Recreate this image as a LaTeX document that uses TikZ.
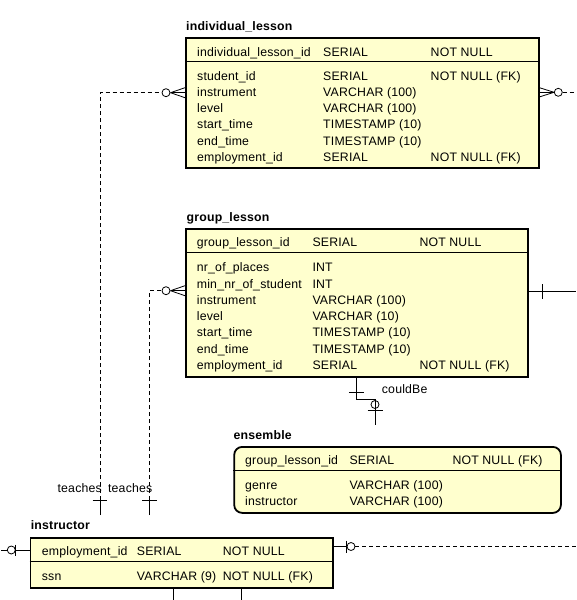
\documentclass[tikz,border=0pt]{standalone}
\usepackage{fontspec}
\setmainfont[LetterSpace=1.5]{Liberation Sans}
\definecolor{boxfill}{RGB}{255,255,206}
\begin{document}
\begin{tikzpicture}[x=1pt,y=-1pt,
  tbl/.style={draw=black, line width=1.8pt, fill=boxfill, inner sep=0pt, anchor=north west},
  cell/.style={anchor=base west, inner sep=0pt, font=\fontsize{12.3}{14}\selectfont},
  ttl/.style={anchor=base west, inner sep=0pt, font=\bfseries\fontsize{12.3}{14}\selectfont},
  lbl/.style={anchor=base east, inner sep=0pt, font=\fontsize{12.3}{14}\selectfont},
  sepline/.style={line width=0.8pt},
  rel/.style={line width=0.8pt},
  dsh/.style={line width=0.8pt, dash pattern=on 4pt off 3pt},
  ring/.style={circle, draw, line width=0.8pt, minimum size=8pt, inner sep=0pt},
  wring/.style={ring, fill=white}
]
\useasboundingbox (0,0) rectangle (576,600);

% ---------- individual_lesson ----------
\node[ttl] (tIL) at (186,30.7) {individual\_lesson};
\node[tbl, minimum width=353pt, minimum height=130pt] (il) at (185,36.7) {};
\draw[sepline] (185,61.7) -- (538,61.7);
\node[cell] (il1a) at (197,56) {individual\_lesson\_id};
\node[cell] (il1b) at (323,56) {SERIAL};
\node[cell] (il1c) at (430.5,56) {NOT NULL};
\node[cell] (il2a) at (197,80) {student\_id};
\node[cell] (il2b) at (323,80) {SERIAL};
\node[cell] (il2c) at (430.5,80) {NOT NULL (FK)};
\node[cell] (il3a) at (197,96.3) {instrument};
\node[cell] (il3b) at (323,96.3) {VARCHAR (100)};
\node[cell] (il4a) at (197,112.6) {level};
\node[cell] (il4b) at (323,112.6) {VARCHAR (100)};
\node[cell] (il5a) at (197,128.9) {start\_time};
\node[cell] (il5b) at (323,128.9) {TIMESTAMP (10)};
\node[cell] (il6a) at (197,145.2) {end\_time};
\node[cell] (il6b) at (323,145.2) {TIMESTAMP (10)};
\node[cell] (il7a) at (197,161.5) {employment\_id};
\node[cell] (il7b) at (323,161.5) {SERIAL};
\node[cell] (il7c) at (430.5,161.5) {NOT NULL (FK)};

% ---------- group_lesson ----------
\node[ttl] (tGL) at (186.5,221.7) {group\_lesson};
\node[tbl, minimum width=342pt, minimum height=147.4pt] (gl) at (185,228.3) {};
\draw[sepline] (185,252.7) -- (527,252.7);
\node[cell] (gl1a) at (196.7,246.7) {group\_lesson\_id};
\node[cell] (gl1b) at (312.3,246.7) {SERIAL};
\node[cell] (gl1c) at (419.3,246.7) {NOT NULL};
\node[cell] (gl2a) at (196.7,271.7) {nr\_of\_places};
\node[cell] (gl2b) at (312.3,271.7) {INT};
\node[cell] (gl3a) at (196.7,288) {min\_nr\_of\_student};
\node[cell] (gl3b) at (312.3,288) {INT};
\node[cell] (gl4a) at (196.7,304.3) {instrument};
\node[cell] (gl4b) at (312.3,304.3) {VARCHAR (100)};
\node[cell] (gl5a) at (196.7,320.6) {level};
\node[cell] (gl5b) at (312.3,320.6) {VARCHAR (10)};
\node[cell] (gl6a) at (196.7,336.9) {start\_time};
\node[cell] (gl6b) at (312.3,336.9) {TIMESTAMP (10)};
\node[cell] (gl7a) at (196.7,353.2) {end\_time};
\node[cell] (gl7b) at (312.3,353.2) {TIMESTAMP (10)};
\node[cell] (gl8a) at (196.7,369.5) {employment\_id};
\node[cell] (gl8b) at (312.3,369.5) {SERIAL};
\node[cell] (gl8c) at (419.3,369.5) {NOT NULL (FK)};

% ---------- ensemble ----------
\node[ttl] (tEN) at (233.5,439) {ensemble};
\node[tbl, rounded corners=8pt, minimum width=326.7pt, minimum height=66pt] (en) at (233.3,446) {};
\draw[sepline] (233.3,470.5) -- (560,470.5);
\node[cell] (en1a) at (245,464) {group\_lesson\_id};
\node[cell] (en1b) at (349.3,464) {SERIAL};
\node[cell] (en1c) at (452.3,464) {NOT NULL (FK)};
\node[cell] (en2a) at (245,489) {genre};
\node[cell] (en2b) at (349.3,489) {VARCHAR (100)};
\node[cell] (en3a) at (245,505) {instructor};
\node[cell] (en3b) at (349.3,505) {VARCHAR (100)};

% ---------- instructor ----------
\node[ttl] (tIN) at (30.7,529) {instructor};
\node[tbl, minimum width=302.5pt, minimum height=50pt] (in) at (29.5,536.7) {};
\draw[sepline] (29.5,561.7) -- (332,561.7);
\node[cell] (in1a) at (41.7,555) {employment\_id};
\node[cell] (in1b) at (136.7,555) {SERIAL};
\node[cell] (in1c) at (222.7,555) {NOT NULL};
\node[cell] (in2a) at (41.7,580) {ssn};
\node[cell] (in2b) at (136.7,580) {VARCHAR (9)};
\node[cell] (in2c) at (222.7,580) {NOT NULL (FK)};

% ---------- connector points ----------
% teaches -> individual_lesson
\coordinate (tA0) at (100,515);
\coordinate (tA1) at (100,500);
\coordinate (tA2) at (100,92.7);
\node[wring] (rA) at (166,92.7) {};
\coordinate (cA) at (170.5,92.7);
\draw[rel] (tA0) -- (tA1);
\draw[rel] ([xshift=-7.3pt]tA1) -- ([xshift=7.3pt]tA1);
\draw[dsh] (tA1) -- (tA2) -- (rA.west);
\draw[rel] (cA) -- (il.west |- cA);
\draw[rel] (cA) -- ([yshift=-5pt]il.west |- cA);
\draw[rel] (cA) -- ([yshift=5pt]il.west |- cA);
\node[lbl] (lA) at (102,492) {teaches};

% teaches -> group_lesson
\coordinate (tB0) at (149.5,515);
\coordinate (tB1) at (149.5,500);
\coordinate (tB2) at (149.5,290.7);
\node[wring] (rB) at (166,290.7) {};
\coordinate (cB) at (170.5,290.7);
\draw[rel] (tB0) -- (tB1);
\draw[rel] ([xshift=-7.3pt]tB1) -- ([xshift=7.3pt]tB1);
\draw[dsh] (tB1) -- (tB2) -- (rB.west);
\draw[rel] (cB) -- (gl.west |- cB);
\draw[rel] (cB) -- ([yshift=-5pt]gl.west |- cB);
\draw[rel] (cB) -- ([yshift=5pt]gl.west |- cB);
\node[lbl] (lB) at (152.5,492) {teaches};

% individual_lesson right side
\coordinate (cC) at (554,92.3);
\node[wring] (rC) at (558.3,92.3) {};
\coordinate (eC) at (576,92.3);
\draw[rel] (cC) -- (il.east |- cC);
\draw[rel] (cC) -- ([yshift=-4.5pt]il.east |- cC);
\draw[rel] (cC) -- ([yshift=4.5pt]il.east |- cC);
\draw[dsh] (rC.east) -- (eC);

% group_lesson right side
\coordinate (gR) at (527,291);
\coordinate (eD) at (576,291);
\draw[rel] (gR) -- (eD);
\draw[rel] (542.3,284) -- (542.3,299);

% couldBe: group_lesson -> ensemble
\coordinate (cb0) at (356,376);
\coordinate (cb1) at (356,399.3);
\coordinate (cb2) at (375,399.3);
\coordinate (cb3) at (375,425);
\draw[rel] (cb0) -- (cb1) -- (cb2) -- (cb3);
\draw[rel] (348.8,392.3) -- (363.8,392.3);
\node[ring] (rE) at (375,404.5) {};
\draw[rel] (367.5,410) -- (382.5,410);
\node[cell] (lE) at (381.7,393.3) {couldBe};

% instructor left side
\coordinate (eF) at (1,550);
\node[wring] (rF) at (11.3,550) {};
\draw[rel] (eF) -- (rF.west);
\draw[rel] (rF.east) -- (in.west |- rF);
\draw[rel] (15.8,544.5) -- (15.8,555.5);

% instructor right side
\node[wring] (rG) at (351,546.5) {};
\coordinate (eG) at (576,546.5);
\draw[rel] (in.east |- rG) -- (rG.west);
\draw[rel] (346.5,540.5) -- (346.5,552.5);
\draw[dsh] (rG.east) -- (eG);

% instructor bottom
\coordinate (bH1) at (173.3,600);
\coordinate (bH2) at (241,600);
\draw[rel] (in.south -| bH1) -- (bH1);
\draw[rel] (in.south -| bH2) -- (bH2);
\end{tikzpicture}
\end{document}
